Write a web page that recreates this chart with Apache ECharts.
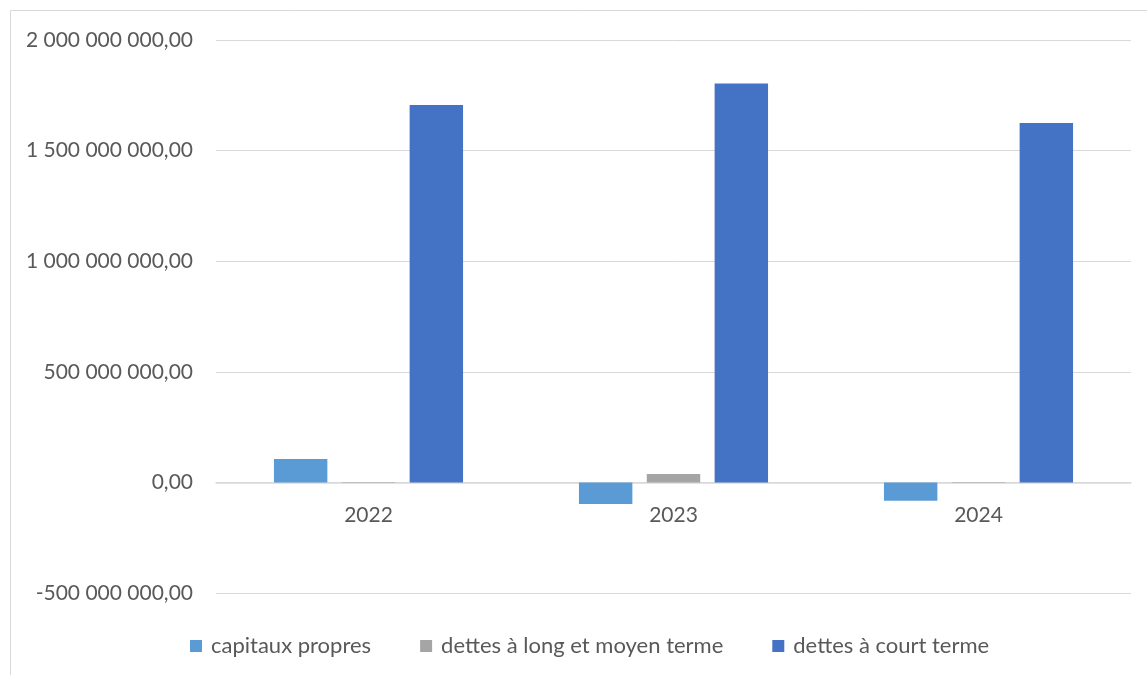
<!DOCTYPE html>
<html>
<head>
<meta charset="utf-8">
<script src="https://cdn.jsdelivr.net/npm/echarts@6/dist/echarts.min.js"></script>
<style>html,body{margin:0;padding:0;background:#fff}#c{width:1147px;height:675px}</style>
</head>
<body>
<div id="c"></div>
<script>
const categories = ['2022', '2023', '2024'];
const capitauxPropres = [106000000, -98000000, -83000000];
const dettesLongMoyen = [1500000, 38000000, 1500000];
const dettesCourt = [1706000000, 1803000000, 1625000000];
const seriesNames = ['capitaux propres', 'dettes à long et moyen terme', 'dettes à court terme'];
const colors = ['#5B9BD5', '#A5A5A5', '#4472C4'];

function fmt(v) {
  const neg = v < 0;
  const a = Math.abs(v);
  const intPart = Math.floor(a).toString().replace(/\B(?=(\d{3})+(?!\d))/g, ' ');
  return (neg ? '-' : '') + intPart + ',00';
}

const chart = echarts.init(document.getElementById('c'));
const font = 'Lato, "Open Sans", sans-serif';
chart.setOption({
  animation: false,
  textStyle: { fontFamily: font },
  graphic: [{
    type: 'polyline',
    shape: { points: [[10.5, 675], [10.5, 10.5], [1147, 10.5]] },
    style: { stroke: '#d9d9d9', lineWidth: 1, fill: null }
  }],
  grid: { left: 216, right: 16, top: 40, bottom: 82, containLabel: false },
  legend: {
    bottom: 13,
    left: 185,
    itemWidth: 12, itemHeight: 12, itemGap: 49,
    icon: 'rect',
    textStyle: { color: '#595959', fontSize: 22, fontFamily: font, padding: [0, 0, 0, 4] },
    data: seriesNames
  },
  xAxis: {
    type: 'category',
    data: categories,
    offset: -110.6,
    axisLine: { onZero: false, lineStyle: { color: '#d9d9d9', width: 1.5 } },
    axisTick: { show: false },
    axisLabel: { color: '#595959', fontSize: 21, margin: 22, fontFamily: font }
  },
  yAxis: {
    type: 'value',
    min: -500000000, max: 2000000000, interval: 500000000,
    axisLine: { show: false },
    axisTick: { show: false },
    splitLine: { lineStyle: { color: '#d9d9d9', width: 1 } },
    axisLabel: { color: '#595959', fontSize: 21, margin: 23, formatter: fmt, fontFamily: font }
  },
  series: [
    { name: seriesNames[0], type: 'bar', data: capitauxPropres, itemStyle: { color: colors[0] }, barGap: '27%', barCategoryGap: '38%' },
    { name: seriesNames[1], type: 'bar', data: dettesLongMoyen, itemStyle: { color: colors[1] }, barGap: '27%', barCategoryGap: '38%' },
    { name: seriesNames[2], type: 'bar', data: dettesCourt, itemStyle: { color: colors[2] }, barGap: '27%', barCategoryGap: '38%' }
  ]
});
</script>
</body>
</html>
